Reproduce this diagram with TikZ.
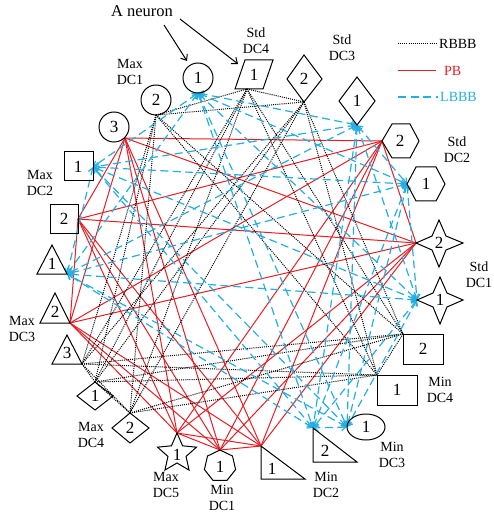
\documentclass[tikz,border=0pt]{standalone}
\usepackage{fontspec}
\setmainfont{Liberation Serif}
\usetikzlibrary{arrows.meta}
\definecolor{pbred}{RGB}{232,30,36}
\definecolor{lbblue}{RGB}{35,175,225}
\begin{document}
\begin{tikzpicture}[x=1pt,y=-1pt,
  shp/.style={draw=black, line width=1pt},
  num/.style={font=\fontsize{17}{17}\selectfont, inner sep=0pt},
  lbl/.style={font=\fontsize{14}{16}\selectfont, align=center, inner sep=0pt},
  rbbb/.style={draw=black, line width=1pt, dash pattern=on 1pt off 1.1pt},
  pb/.style={draw=pbred, line width=1pt},
  lbbb/.style={draw=lbblue, line width=1.2pt, dash pattern=on 8pt off 4.5pt},
  lbarr/.style={lbbb, {Straight Barb[length=4.5pt,width=7pt]}-{Straight Barb[length=4.5pt,width=7pt]}},
  ptr/.style={draw=black, line width=1pt, -{Straight Barb[length=5pt,width=8pt]}},
]
\useasboundingbox (0,0) rectangle (493,518);

% ---------- connection points ----------
% PB
\coordinate (c3) at (125,138);
\coordinate (s2) at (78,219);
\coordinate (t2) at (70,323);
\coordinate (st5) at (177,433);
\coordinate (hp) at (220,450);
\coordinate (rt1) at (261,446);
\coordinate (hx2) at (382,141);
\coordinate (sf2) at (416,243);
% RBBB
\coordinate (c2) at (156,115);
\coordinate (pg) at (247,89);
\coordinate (dm2) at (304,102);
\coordinate (t3) at (82,364);
\coordinate (dd1) at (95,382);
\coordinate (dd2) at (130,413);
\coordinate (q2) at (403,334);
\coordinate (q1) at (377,375);
% LBBB
\coordinate (c1) at (198,93);
\coordinate (dm1) at (357,125);
\coordinate (hx1) at (407,184);
\coordinate (sf1) at (417,300);
\coordinate (el) at (347,427);
\coordinate (rt2) at (313,428);
\coordinate (t1) at (67,274);
\coordinate (s1) at (93,167);

% ---------- connectors ----------
\foreach \a [count=\i] in {c3,s2,t2,st5,hp,rt1,hx2,sf2}{
  \foreach \b [count=\j] in {c3,s2,t2,st5,hp,rt1,hx2,sf2}{
    \ifnum\j>\i \draw[pb] (\a) -- (\b); \fi
  }
}
\foreach \a [count=\i] in {c2,pg,dm2,t3,dd1,dd2,q2,q1}{
  \foreach \b [count=\j] in {c2,pg,dm2,t3,dd1,dd2,q2,q1}{
    \ifnum\j>\i \draw[rbbb] (\a) -- (\b); \fi
  }
}
\foreach \a [count=\i] in {c1,dm1,hx1,sf1,el,rt2,t1,s1}{
  \foreach \b [count=\j] in {c1,dm1,hx1,sf1,el,rt2,t1,s1}{
    \ifnum\j>\i \draw[lbarr] (\a) -- (\b); \fi
  }
}

% ---------- neurons ----------
% Max DC1 circles
\node[shp,circle,minimum size=30pt,num] (n1) at (198,78) {1};
\node[shp,circle,minimum size=30pt,num] (n2) at (156,100) {2};
\node[shp,circle,minimum size=30pt,num] (n3) at (114,127) {3};
% Std DC4 parallelogram
\draw[shp] (235,89) -- (245,60) -- (273,60) -- (263,89) -- cycle;
\node[num] (n4) at (254,75) {1};
% Std DC3 diamonds
\draw[shp] (304,55) -- (322,79) -- (304,102) -- (287,79) -- cycle;
\node[num] (n5) at (304,79) {2};
\draw[shp] (357,77) -- (375,101) -- (357,125) -- (339,101) -- cycle;
\node[num] (n6) at (357,101) {1};
% Std DC2 hexagons
\draw[shp] (382,141) -- (392,124) -- (410,124) -- (419,141) -- (410,158) -- (392,158) -- cycle;
\node[num] (n7) at (400,141) {2};
\draw[shp] (407,184) -- (416,167) -- (436,167) -- (445,184) -- (436,201) -- (416,201) -- cycle;
\node[num] (n8) at (426,184) {1};
% Std DC1 four-point stars
\draw[shp] (416,243) -- (432,236) -- (439,220) -- (446,236) -- (463,243) -- (446,250) -- (439,267) -- (432,250) -- cycle;
\node[num] (n9) at (439,243) {2};
\draw[shp] (417,300) -- (433,293) -- (440,277) -- (447,293) -- (463,300) -- (447,307) -- (440,324) -- (433,307) -- cycle;
\node[num] (n10) at (440,300) {1};
% Min DC4 squares
\draw[shp] (403,334) rectangle (443,364);
\node[num] (n11) at (423,349) {2};
\draw[shp] (377,375) rectangle (417,405);
\node[num] (n12) at (397,390) {1};
% Min DC3 ellipse
\draw[shp] (366,427) ellipse [x radius=19, y radius=13];
\node[num] (n13) at (366,427) {1};
% Min DC2 right triangles
\draw[shp] (313,428) -- (313,462) -- (357,462) -- cycle;
\node[num] (n14) at (325,451) {2};
\draw[shp] (261,446) -- (261,479) -- (305,479) -- cycle;
\node[num] (n15) at (272,469) {1};
% Min DC1 heptagon
\draw[shp] (220,450) \foreach \k in {1,...,6}{ -- ({220+16*sin(\k*360/7)},{466-16*cos(\k*360/7)}) } -- cycle;
\node[num] (n16) at (220,467) {1};
% Max DC5 star
\draw[shp] (177,433) \foreach \k in {1,...,9}{ -- ({177+(mod(\k,2)==0 ? 20.5 : 9.5)*sin(\k*36)},{453.5-(mod(\k,2)==0 ? 20.5 : 9.5)*cos(\k*36)}) } -- cycle;
\node[num] (n17) at (177,455) {1};
% Max DC4 diamonds
\draw[shp] (130,413) -- (149,428) -- (130,443) -- (112,428) -- cycle;
\node[num] (n18) at (130,428) {2};
\draw[shp] (95,382) -- (113,396) -- (95,410) -- (77,396) -- cycle;
\node[num] (n19) at (95,396) {1};
% Max DC3 triangles
\draw[shp] (67,335) -- (82,364) -- (52,364) -- cycle;
\node[num] (n20) at (67,353) {3};
\draw[shp] (55,293) -- (70,323) -- (40,323) -- cycle;
\node[num] (n21) at (55,312) {2};
\draw[shp] (52,245) -- (67,274) -- (37,274) -- cycle;
\node[num] (n22) at (52,264) {1};
% Max DC2 squares
\draw[shp] (50,205) rectangle (78,233);
\node[num] (n23) at (64,219) {2};
\draw[shp] (64,152) rectangle (93,181);
\node[num] (n24) at (78,167) {1};

% ---------- labels ----------
\node[font=\fontsize{16.5}{18}\selectfont, inner sep=0pt] (an) at (142,11) {A neuron};
\coordinate (ana) at (164,25);
\coordinate (anb) at (180,19);
\coordinate (aea) at (187,61);
\coordinate (aeb) at (238,64);
\draw[ptr] (ana) -- (aea);
\draw[ptr] (anb) -- (aeb);

\node[lbl] (lmx1) at (130,72) {Max\\DC1};
\node[lbl] (lsd4) at (256,41) {Std\\DC4};
\node[lbl] (lsd3) at (342,48) {Std\\DC3};
\node[lbl] (lsd2) at (457,150) {Std\\DC2};
\node[lbl] (lsd1) at (479,275) {Std\\DC1};
\node[lbl] (lmn4) at (440,390) {Min\\DC4};
\node[lbl] (lmn3) at (392,455) {Min\\DC3};
\node[lbl] (lmn2) at (326,485) {Min\\DC2};
\node[lbl] (lmn1) at (222,498) {Min\\DC1};
\node[lbl] (lmx5) at (166,485) {Max\\DC5};
\node[lbl] (lmx4) at (91,435) {Max\\DC4};
\node[lbl] (lmx3) at (22,329) {Max\\DC3};
\node[lbl] (lmx2) at (40,183) {Max\\DC2};

% ---------- legend ----------
\coordinate (lga) at (398,44); \coordinate (lgb) at (437,44);
\coordinate (lgc) at (398,71); \coordinate (lgd) at (436,71);
\coordinate (lge) at (398,97); \coordinate (lgf) at (438,97);
\draw[rbbb] (lga) -- (lgb);
\draw[pb] (lgc) -- (lgd);
\draw[lbbb] (lge) -- (lgf);
\node[lbl, anchor=west] (lg1) at (439,44) {RBBB};
\node[lbl, anchor=west, text=pbred] (lg2) at (444,71) {PB};
\node[lbl, anchor=west, text=lbblue] (lg3) at (440,97) {LBBB};
\end{tikzpicture}
\end{document}
